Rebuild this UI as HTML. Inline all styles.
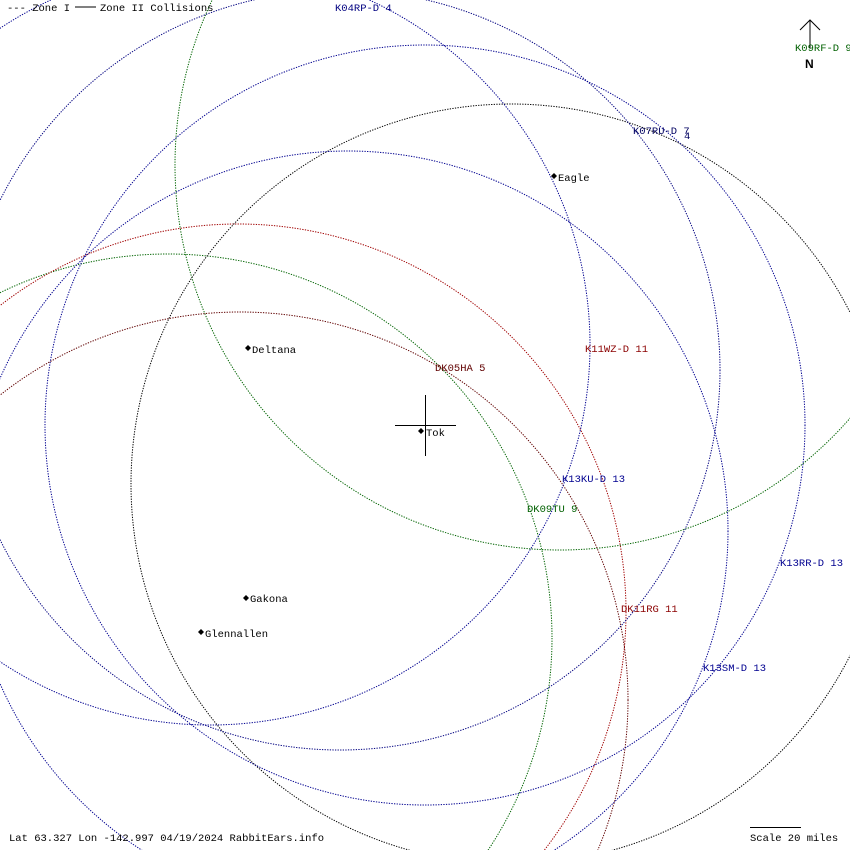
<!DOCTYPE html>
<html><head><meta charset="utf-8"><style>
html,body{margin:0;padding:0;background:#fff;overflow:hidden;width:850px;height:850px;}
svg{display:block;}
text{font-family:"Liberation Mono","DejaVu Sans Mono",monospace;font-size:10.5px;}
</style></head><body>
<svg width="850" height="850" viewBox="0 0 850 850" xmlns="http://www.w3.org/2000/svg">
<rect width="850" height="850" fill="#fff"/>
<g fill="none" stroke-width="1" stroke-dasharray="1.3 1.3">
<circle cx="560" cy="165" r="385" stroke="#006400"/>
<circle cx="168" cy="638" r="384" stroke="#006400"/>
<circle cx="238" cy="612" r="388" stroke="#a00000"/>
<circle cx="240" cy="700" r="388" stroke="#600000"/>
<circle cx="511" cy="484" r="380" stroke="#000000"/>
<circle cx="340" cy="370" r="380" stroke="#000080"/>
<circle cx="348" cy="531" r="380" stroke="#000090"/>
<circle cx="425" cy="425" r="380" stroke="#000090"/>
<circle cx="210" cy="345" r="380" stroke="#000090"/>
</g>
<text x="7" y="11" fill="#000">--- Zone I</text>
<line x1="75" y1="7" x2="96" y2="7" stroke="#000"/>
<text x="100" y="11" fill="#000">Zone II Collisions</text>
<line x1="810" y1="20" x2="810" y2="48" stroke="#000"/>
<polyline points="800,30 810,20 820,30" fill="none" stroke="#000"/>
<text x="805" y="68" font-weight="bold" style="font-family:'Liberation Sans',sans-serif;font-size:12px" fill="#000">N</text>
<text x="335" y="11" fill="#000080">K04RP-D 4</text>
<text x="795" y="51" fill="#006000">K09RF-D 9</text>
<text x="633" y="134" fill="#000060">K07RU-D 7</text>
<text x="684" y="139" fill="#000060">4</text>
<text x="585" y="352" fill="#8b0000">K11WZ-D 11</text>
<text x="435" y="371" fill="#600000">DK05HA 5</text>
<text x="562" y="482" fill="#000090">K13KU-D 13</text>
<text x="527" y="512" fill="#006000">DK09TU 9</text>
<text x="780" y="566" fill="#000090">K13RR-D 13</text>
<text x="621" y="612" fill="#8b0000">DK11RG 11</text>
<text x="703" y="671" fill="#000090">K13SM-D 13</text>
<g fill="#000">
<path d="M554,173 l3,3 l-3,3 l-3,-3z"/><text x="558" y="181">Eagle</text>
<path d="M248,345 l3,3 l-3,3 l-3,-3z"/><text x="252" y="353">Deltana</text>
<path d="M421,428 l3,3 l-3,3 l-3,-3z"/><text x="426" y="436">Tok</text>
<path d="M246,595 l3,3 l-3,3 l-3,-3z"/><text x="250" y="602">Gakona</text>
<path d="M201,629 l3,3 l-3,3 l-3,-3z"/><text x="205" y="637">Glennallen</text>
</g>
<line x1="395" y1="425.5" x2="456" y2="425.5" stroke="#000"/>
<line x1="425.5" y1="395" x2="425.5" y2="456" stroke="#000"/>
<text x="9" y="841" fill="#000">Lat 63.327 Lon -142.997 04/19/2024 RabbitEars.info</text>
<line x1="750" y1="827.5" x2="801" y2="827.5" stroke="#000"/>
<text x="750" y="841" fill="#000">Scale 20 miles</text>
</svg>
</body></html>
